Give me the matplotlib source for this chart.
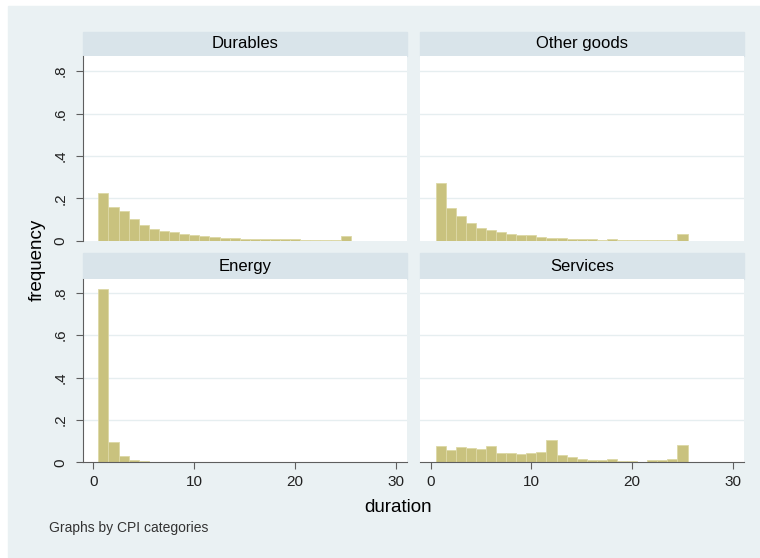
import numpy as np
import matplotlib
matplotlib.use('Agg')
import matplotlib.pyplot as plt
from matplotlib.patches import Rectangle

plt.rcParams['font.family'] = ['Liberation Sans', 'DejaVu Sans']

# histogram data: share of spells by duration (bins centred on 1..25)
durations = np.arange(1, 26)
durables = [0.223, 0.161, 0.142, 0.102, 0.075, 0.056, 0.047, 0.039, 0.031, 0.025,
            0.020, 0.017, 0.011, 0.011, 0.006, 0.006, 0.006, 0.010, 0.006, 0.006,
            0.003, 0.003, 0.003, 0.003, 0.020]
other_goods = [0.271, 0.153, 0.115, 0.083, 0.060, 0.050, 0.042, 0.033, 0.027, 0.027,
               0.019, 0.014, 0.014, 0.009, 0.009, 0.009, 0.003, 0.010, 0.005, 0.005,
               0.005, 0.004, 0.004, 0.004, 0.030]
energy = [0.820, 0.097, 0.030, 0.011, 0.006, 0.003, 0.003, 0.0, 0.0, 0.0,
          0.0, 0.003, 0.0, 0.0, 0.0, 0.0, 0.0, 0.0, 0.0, 0.0,
          0.0, 0.0, 0.0, 0.0, 0.0]
services = [0.079, 0.058, 0.074, 0.069, 0.065, 0.079, 0.042, 0.046, 0.041, 0.046,
            0.050, 0.105, 0.036, 0.024, 0.017, 0.013, 0.013, 0.017, 0.008, 0.008,
            0.003, 0.009, 0.009, 0.014, 0.082]
titles = ['Durables', 'Other goods', 'Energy', 'Services']
series = [durables, other_goods, energy, services]
yticks = [0, 0.2, 0.4, 0.6, 0.8]
ylabels = ['0', '.2', '.4', '.6', '.8']
xticks = [0, 10, 20, 30]

W, H = 760, 558
bg = '#EAF1F3'
strip = '#D9E4EA'
barcol = '#C9C27E'
axcol = '#5E5E5E'

fig = plt.figure(figsize=(W / 100, H / 100), dpi=100)
fig.patch.set_facecolor('white')
fig.patches.append(Rectangle((8 / W, 1 - 557 / H), (W - 8) / W, 551 / H,
                             transform=fig.transFigure, color=bg, zorder=-2))

# panel boxes in pixels
cols = [(82.7, 407.3), (420, 744)]
rows = [(32, 55.7, 240.7), (253.3, 279, 462.3)]

for i, (title, vals) in enumerate(zip(titles, series)):
    r, c = divmod(i, 2)
    x0, x1 = cols[c]
    ht, pt, pb = rows[r]
    fig.patches.append(Rectangle((x0 / W, 1 - pt / H), (x1 - x0) / W, (pt - ht) / H,
                                 transform=fig.transFigure, color=strip, zorder=-1))
    fig.text((x0 + x1) / 2 / W, 1 - (ht + pt) / 2 / H, title, ha='center', va='center',
             fontsize=12, color='black')
    ax = fig.add_axes([x0 / W, 1 - pb / H, (x1 - x0) / W, (pb - pt) / H])
    ax.set_zorder(3)
    ax.set_facecolor('white')
    ax.bar(durations, vals, width=1, color=barcol, edgecolor='#DDD8A6', linewidth=0.6, zorder=2)
    ax.set_xlim(-1.05, 31.1)
    ax.set_ylim(0, 0.873 if r == 0 else 0.865)
    for y in yticks[1:]:
        ax.axhline(y, color='#E6EEF0', linewidth=1, zorder=1)
    for s in ax.spines.values():
        s.set_visible(False)
    if c == 0:
        ax.spines['left'].set_visible(True)
        ax.spines['left'].set_color(axcol)
        ax.set_yticks(yticks)
        ax.set_yticklabels(ylabels, rotation=90, va='center')
        ax.tick_params(axis='y', length=5, color=axcol, labelsize=11, pad=6, labelcolor='#222222')
    else:
        ax.set_yticks([])
    if r == 1:
        ax.spines['bottom'].set_visible(True)
        ax.spines['bottom'].set_color(axcol)
        ax.set_xticks(xticks)
        ax.tick_params(axis='x', length=5, color=axcol, labelsize=11, pad=4, labelcolor='#222222')
    else:
        ax.set_xticks([])

fig.text(37 / W, 1 - 260 / H, 'frequency', rotation=90, ha='center', va='center', fontsize=13.5)
fig.text(398 / W, 1 - 507 / H, 'duration', ha='center', va='center', fontsize=13.5)
fig.text(49 / W, 1 - 528 / H, 'Graphs by CPI categories', ha='left', va='center',
         fontsize=10, color='#333333')

fig.savefig('out.png', dpi=100, facecolor=fig.get_facecolor())
